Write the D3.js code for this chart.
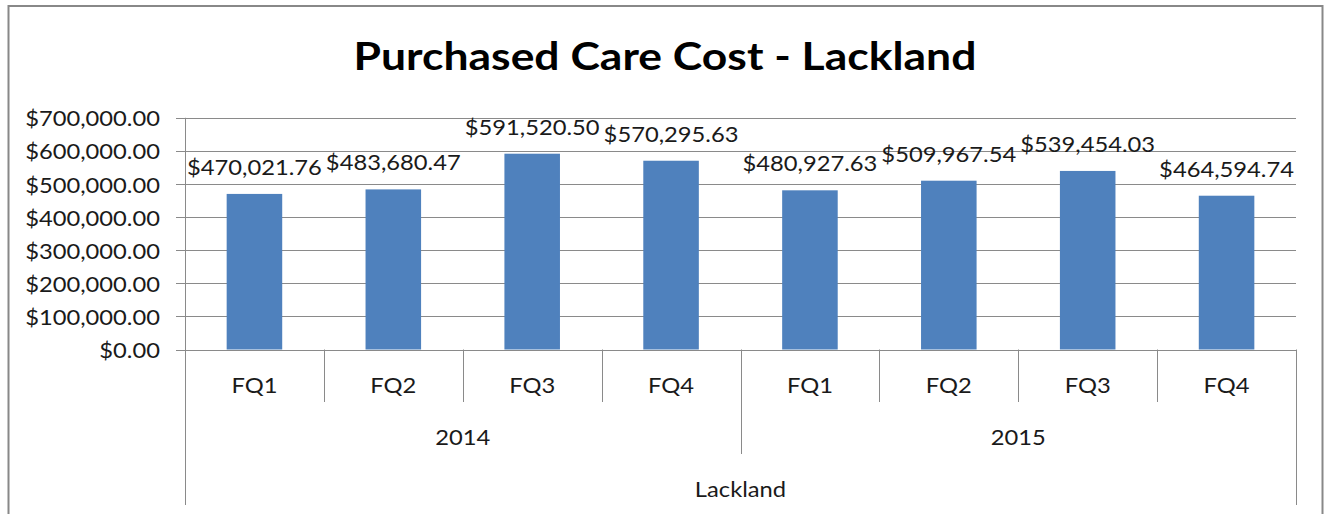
<!DOCTYPE html>
<html>
<head>
<meta charset="utf-8">
<script src="https://cdn.jsdelivr.net/npm/d3@7"></script>
<style>
  body { margin: 0; background: #fff; }
  svg { display: block; font-family: Lato, "Open Sans", sans-serif; }
</style>
</head>
<body>
<svg id="chart" width="1331" height="514"></svg>
<script>
// chart data
var chartTitle = "Purchased Care Cost - Lackland";
var groupName = "Lackland";
var years = ["2014", "2015"];
var quarters = ["FQ1", "FQ2", "FQ3", "FQ4"];
var costs2014 = [470021.76, 483680.47, 591520.50, 570295.63];
var costs2015 = [480927.63, 509967.54, 539454.03, 464594.74];
var yTicks = [0, 100000, 200000, 300000, 400000, 500000, 600000, 700000];

var values = [];
[costs2014, costs2015].forEach(function(arr, yi) {
  arr.forEach(function(v, qi) {
    values.push({ key: years[yi] + "-" + quarters[qi], year: years[yi], q: quarters[qi], v: v });
  });
});

var plotLeft = 185, plotRight = 1296, plotTop = 117.8, plotBottom = 349.5;
var SX = 1.13; // the source picture is a bit wider than it is tall
var gridColor = "#8a8a8a";
var textColor = "#1a1a1a";
var money = d3.format("$,.2f");

var svg = d3.select("#chart");

// outer chart border
svg.append("rect")
  .attr("x", 8.5).attr("y", 6)
  .attr("width", 1314).attr("height", 600)
  .attr("fill", "none").attr("stroke", "#888").attr("stroke-width", 2);

var x = d3.scaleBand()
  .domain(values.map(function(d) { return d.key; }))
  .range([plotLeft, plotRight])
  .paddingInner(0.6).paddingOuter(0.3);

var y = d3.scaleLinear().domain([0, 700000]).range([plotBottom, plotTop]);

function stretch(k) {
  return function(sel) {
    sel.each(function() {
      var len = this.getComputedTextLength();
      d3.select(this).attr("textLength", len * k).attr("lengthAdjust", "spacingAndGlyphs");
    });
  };
}

// gridlines
svg.append("g").selectAll("line")
  .data(yTicks)
  .enter().append("line")
  .attr("x1", plotLeft - 9).attr("x2", plotRight)
  .attr("y1", function(d) { return Math.round(y(d)) + 0.5; })
  .attr("y2", function(d) { return Math.round(y(d)) + 0.5; })
  .attr("stroke", gridColor).attr("stroke-width", 1);

// value axis labels
svg.append("g").selectAll("text")
  .data(yTicks)
  .enter().append("text")
  .attr("x", 160)
  .attr("y", function(d) { return y(d) + 8.5; })
  .attr("text-anchor", "end")
  .attr("font-size", 21)
  .attr("fill", textColor)
  .text(function(d) { return money(d); })
  .call(stretch(SX));

// bars
svg.append("g").selectAll("rect")
  .data(values)
  .enter().append("rect")
  .attr("x", function(d) { return x(d.key); })
  .attr("y", function(d) { return y(d.v); })
  .attr("width", x.bandwidth())
  .attr("height", function(d) { return y(0) - y(d.v); })
  .attr("fill", "#4f81bd");

// data labels
svg.append("g").selectAll("text")
  .data(values)
  .enter().append("text")
  .attr("x", function(d) { return x(d.key) + x.bandwidth() / 2; })
  .attr("y", function(d) { return y(d.v) - 19; })
  .attr("text-anchor", "middle")
  .attr("font-size", 21)
  .attr("fill", textColor)
  .text(function(d) { return money(d.v); })
  .call(stretch(SX));

// multi level category axis
var step = x.step();
var axisG = svg.append("g").attr("stroke", gridColor).attr("stroke-width", 1);
d3.range(values.length + 1).forEach(function(i) {
  var xx = Math.round(plotLeft + i * step) + 0.5;
  var bottom = (i === 0 || i === values.length) ? 505 : (i % quarters.length === 0 ? 454 : 402);
  axisG.append("line")
    .attr("x1", xx).attr("x2", xx)
    .attr("y1", i === 0 ? plotTop : plotBottom).attr("y2", bottom);
});

svg.append("g").selectAll("text")
  .data(values)
  .enter().append("text")
  .attr("x", function(d) { return x(d.key) + x.bandwidth() / 2; })
  .attr("y", plotBottom + 43)
  .attr("text-anchor", "middle")
  .attr("font-size", 21)
  .attr("fill", textColor)
  .text(function(d) { return d.q; })
  .call(stretch(SX));

svg.append("g").selectAll("text")
  .data(years)
  .enter().append("text")
  .attr("x", function(d, i) { return plotLeft + (i + 0.5) * step * quarters.length; })
  .attr("y", 445)
  .attr("text-anchor", "middle")
  .attr("font-size", 21)
  .attr("fill", textColor)
  .text(function(d) { return d; })
  .call(stretch(SX));

svg.append("text")
  .attr("x", (plotLeft + plotRight) / 2)
  .attr("y", 497)
  .attr("text-anchor", "middle")
  .attr("font-size", 21)
  .attr("fill", textColor)
  .text(groupName)
  .call(stretch(SX));

// title
svg.append("text")
  .attr("x", 665)
  .attr("y", 69.5)
  .attr("text-anchor", "middle")
  .attr("font-size", 39)
  .attr("font-weight", "bold")
  .attr("fill", "#000")
  .text(chartTitle)
  .call(stretch(1.14));
</script>
</body>
</html>
